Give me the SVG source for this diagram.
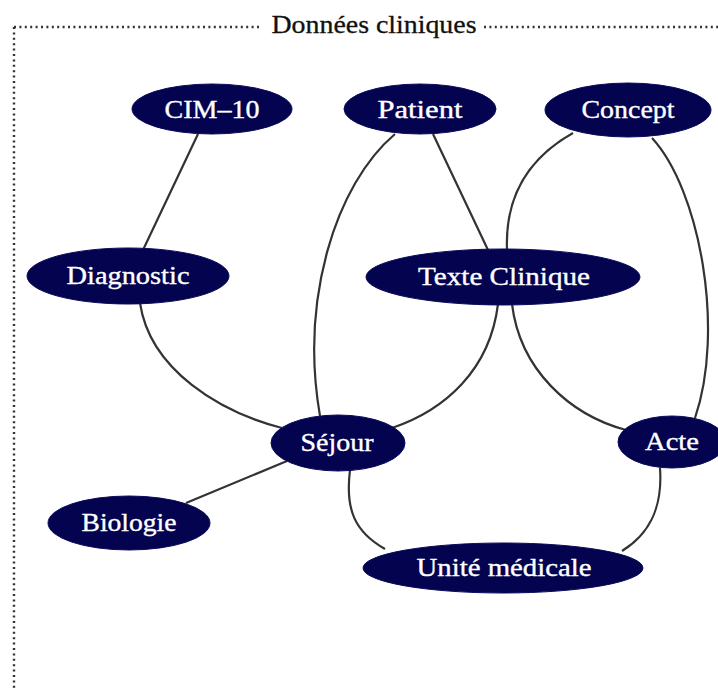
<svg xmlns="http://www.w3.org/2000/svg" width="718" height="688" viewBox="0 0 718 688">
<style>
.frame{fill:none;stroke:#333;stroke-width:2.4;stroke-dasharray:2 3.4}
.node ellipse{fill:#03034f;stroke:#0a0a5a;stroke-width:1}
.node text{fill:#ffffff;stroke:#ffffff;stroke-width:0.35;font-family:"Liberation Serif","DejaVu Serif",serif;font-size:25px;text-anchor:middle}
.edge{fill:none;stroke:#333333;stroke-width:2.2}
.title{fill:#111;stroke:#111;stroke-width:0.3;font-family:"Liberation Serif","DejaVu Serif",serif;font-size:25px;text-anchor:middle}
</style>
<rect width="718" height="688" fill="#ffffff"/>
<g id="frame">
<line class="frame" x1="14" y1="27" x2="260" y2="27"/>
<line class="frame" x1="484" y1="27" x2="718" y2="27"/>
<line class="frame" x1="14" y1="27" x2="14" y2="688"/>
<text class="title" x="374" y="33" textLength="205" lengthAdjust="spacingAndGlyphs">Données cliniques</text>
</g>
<g id="connectors">
<path class="edge" d="M198,134 L143,250"/>
<path class="edge" d="M395,134 C335,185 300,300 320,416"/>
<path class="edge" d="M433,134 L488,250"/>
<path class="edge" d="M573,133 C525,160 505,200 507,250"/>
<path class="edge" d="M652,138 C700,190 725,330 695,418"/>
<path class="edge" d="M140,303 C150,370 220,412 282,428"/>
<path class="edge" d="M498,304 C490,370 445,410 392,428"/>
<path class="edge" d="M512,304 C520,370 570,415 626,430"/>
<path class="edge" d="M287,461 L186,503"/>
<path class="edge" d="M350,470 C345,510 355,532 385,549"/>
<path class="edge" d="M660,468 C663,510 648,535 622,551"/>
</g>
<g id="cim10" class="node"><ellipse cx="212" cy="109" rx="80" ry="25"/><text x="212" y="118" textLength="95" lengthAdjust="spacingAndGlyphs">CIM–10</text></g>
<g id="patient" class="node"><ellipse cx="420" cy="109" rx="76" ry="25"/><text x="420" y="118" textLength="85" lengthAdjust="spacingAndGlyphs">Patient</text></g>
<g id="concept" class="node"><ellipse cx="628" cy="110" rx="83" ry="27"/><text x="628" y="118" textLength="93" lengthAdjust="spacingAndGlyphs">Concept</text></g>
<g id="diagnostic" class="node"><ellipse cx="128" cy="276" rx="101" ry="28"/><text x="128" y="284" textLength="123" lengthAdjust="spacingAndGlyphs">Diagnostic</text></g>
<g id="texte" class="node"><ellipse cx="503" cy="277" rx="137" ry="28"/><text x="504" y="285" textLength="172" lengthAdjust="spacingAndGlyphs">Texte Clinique</text></g>
<g id="sejour" class="node"><ellipse cx="338" cy="443" rx="67" ry="28"/><text x="337" y="451" textLength="73" lengthAdjust="spacingAndGlyphs">Séjour</text></g>
<g id="acte" class="node"><ellipse cx="672" cy="442" rx="54" ry="26"/><text x="672" y="450" textLength="54" lengthAdjust="spacingAndGlyphs">Acte</text></g>
<g id="biologie" class="node"><ellipse cx="129" cy="523" rx="81" ry="27"/><text x="129" y="531" textLength="95" lengthAdjust="spacingAndGlyphs">Biologie</text></g>
<g id="unite" class="node"><ellipse cx="503" cy="568" rx="140" ry="25"/><text x="504" y="576" textLength="175" lengthAdjust="spacingAndGlyphs">Unité médicale</text></g>
</svg>
